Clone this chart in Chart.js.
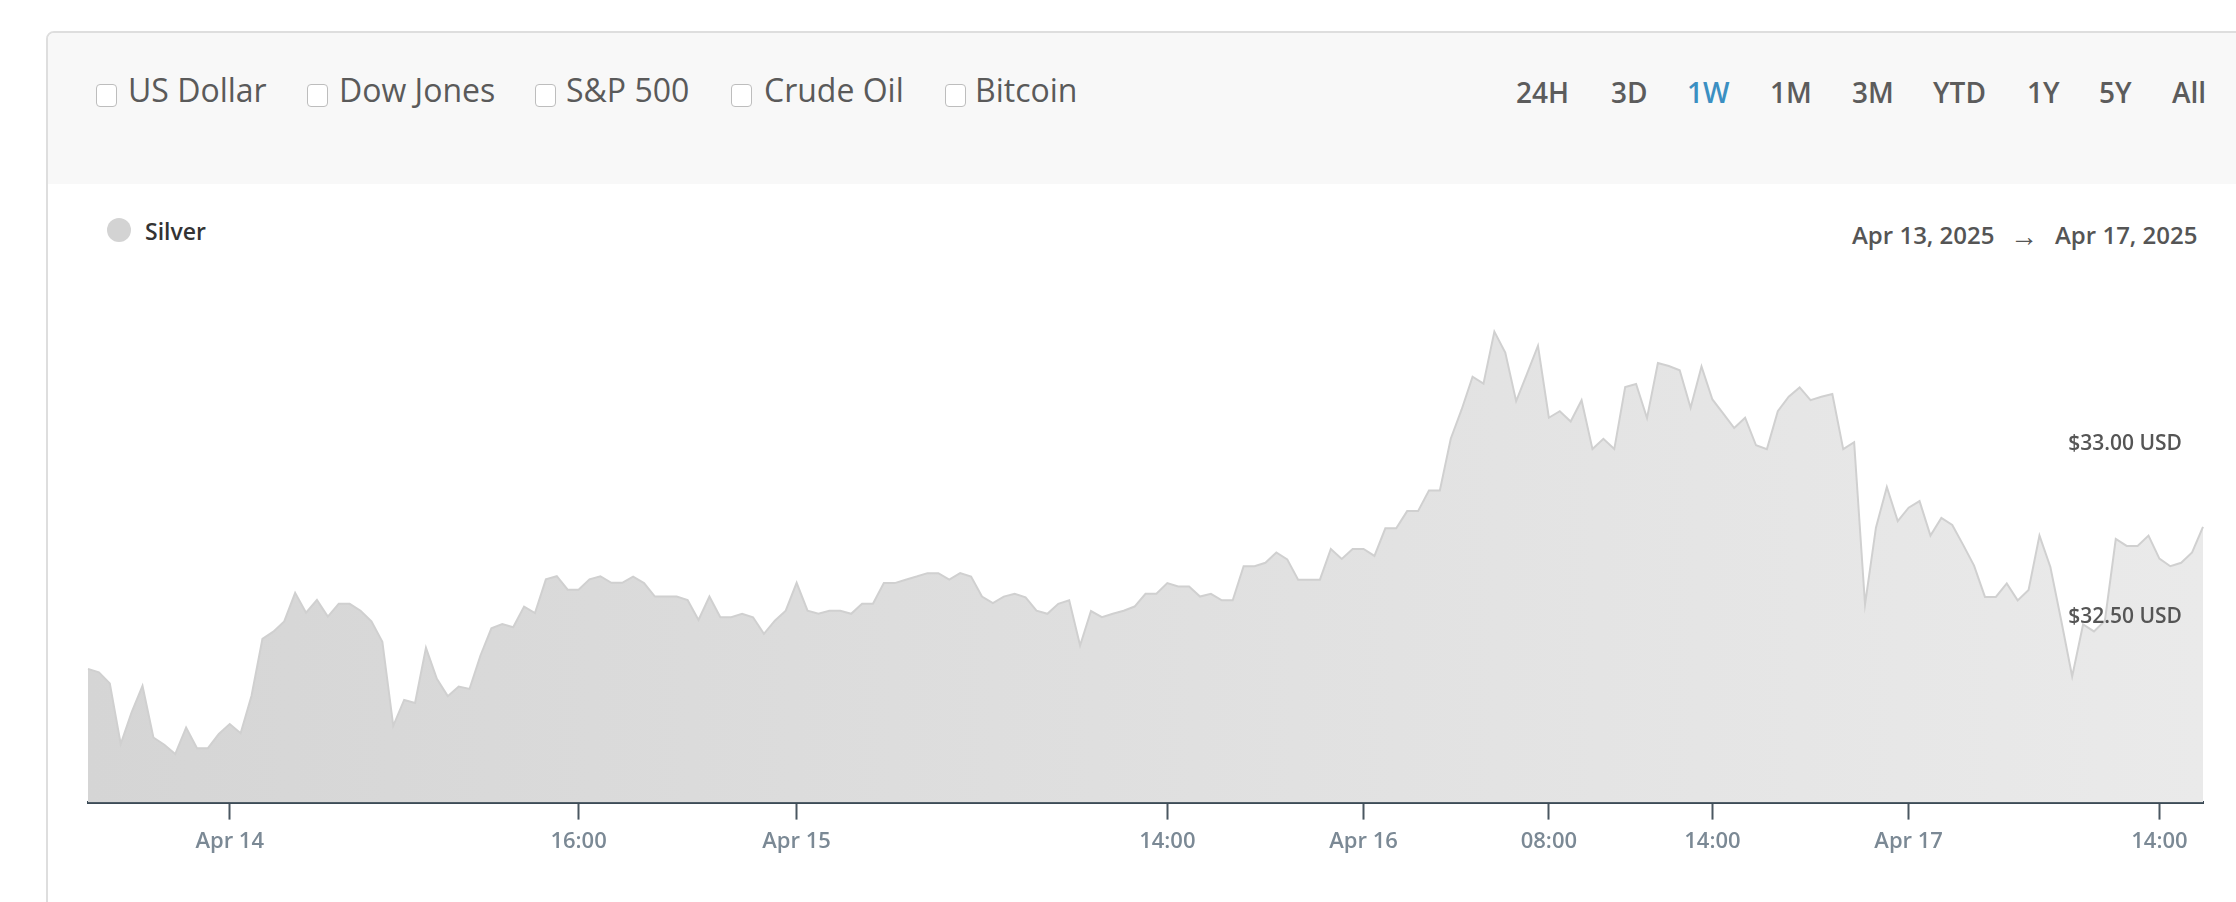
<!DOCTYPE html>
<html>
<head>
<meta charset="utf-8">
<script src="https://cdn.jsdelivr.net/npm/chart.js@4.4.1/dist/chart.umd.min.js"></script>
<style>
  html, body { margin: 0; padding: 0; background: #fff; }
  body { width: 2236px; height: 902px; overflow: hidden; position: relative; font-family: 'Open Sans', sans-serif; }
  .card { position: absolute; left: 46px; top: 31px; width: 2300px; height: 1000px; border: 2px solid #dedede; border-radius: 8px; background: #fff; overflow: hidden; }
  .card-head { position: absolute; left: 0; top: 0; width: 100%; height: 151px; background: #f8f8f8; }
  .txt { position: absolute; white-space: nowrap; line-height: normal; }
  .cb { position: absolute; top: 84px; width: 19px; height: 21px; border: 1.5px solid #bdbdbd; border-radius: 4px; background: #fff; }
  .opt { top: 68px; font-size: 32px; color: #5a5a5a; }
  .range { top: 73px; font-size: 28px; font-weight: 600; color: #5c5c5c; }
  .range.on { color: #3b8fc2; }
  .dot { position: absolute; left: 107px; top: 218px; width: 24px; height: 24px; border-radius: 50%; background: #d3d3d3; }
  .silver { left: 145px; top: 215px; font-size: 23px; font-weight: 600; color: #333; }
  .dates { top: 218px; font-size: 24px; font-weight: 600; color: #555; }
  .arrow { top: 216px; font-size: 28px; color: #555; }
  #wrap { position: absolute; left: 0; top: 0; width: 2236px; height: 902px; pointer-events: none; }
</style>
</head>
<body>
<div class="card"><div class="card-head"></div></div>

<span class="cb" style="left:96px"></span><span class="txt opt" style="left:128px">US Dollar</span>
<span class="cb" style="left:307px"></span><span class="txt opt" style="left:339px">Dow Jones</span>
<span class="cb" style="left:535px"></span><span class="txt opt" style="left:566px">S&amp;P 500</span>
<span class="cb" style="left:731px"></span><span class="txt opt" style="left:764px">Crude Oil</span>
<span class="cb" style="left:945px"></span><span class="txt opt" style="left:975px">Bitcoin</span>

<span class="txt range" style="left:1516px">24H</span>
<span class="txt range" style="left:1611px">3D</span>
<span class="txt range on" style="left:1687px">1W</span>
<span class="txt range" style="left:1770px">1M</span>
<span class="txt range" style="left:1852px">3M</span>
<span class="txt range" style="left:1933px">YTD</span>
<span class="txt range" style="left:2027px">1Y</span>
<span class="txt range" style="left:2099px">5Y</span>
<span class="txt range" style="left:2172px">All</span>

<span class="dot"></span><span class="txt silver">Silver</span>
<span class="txt dates" style="left:1852px">Apr 13, 2025</span>
<span class="txt arrow" style="left:2010px">→</span>
<span class="txt dates" style="left:2055px">Apr 17, 2025</span>

<div id="wrap"><canvas id="silverChart"></canvas></div>

<script>
// Precio de la plata (USD), un punto por intervalo, 13-17 abr 2025
const silverPrices = [
  32.348, 32.338, 32.306, 32.130, 32.222, 32.299, 32.149, 32.128, 32.101, 32.178,
  32.118, 32.118, 32.159, 32.188, 32.161, 32.270, 32.435, 32.456, 32.486, 32.569,
  32.511, 32.548, 32.500, 32.537, 32.537, 32.517, 32.486, 32.427, 32.183, 32.258,
  32.249, 32.409, 32.319, 32.269, 32.297, 32.290, 32.387, 32.466, 32.478, 32.469,
  32.529, 32.510, 32.608, 32.617, 32.578, 32.578, 32.608, 32.617, 32.598, 32.598,
  32.616, 32.597, 32.558, 32.558, 32.558, 32.548, 32.490, 32.558, 32.498, 32.498,
  32.508, 32.498, 32.450, 32.488, 32.517, 32.598, 32.517, 32.508, 32.517, 32.517,
  32.508, 32.537, 32.537, 32.597, 32.597, 32.607, 32.616, 32.626, 32.626, 32.607,
  32.626, 32.616, 32.558, 32.539, 32.558, 32.566, 32.556, 32.517, 32.508, 32.537,
  32.547, 32.416, 32.516, 32.498, 32.508, 32.517, 32.529, 32.566, 32.566, 32.597,
  32.587, 32.587, 32.558, 32.566, 32.547, 32.547, 32.646, 32.646, 32.656, 32.686,
  32.666, 32.607, 32.607, 32.607, 32.696, 32.667, 32.696, 32.696, 32.676, 32.756,
  32.756, 32.806, 32.806, 32.866, 32.866, 33.016, 33.101, 33.196, 33.176, 33.327,
  33.266, 33.125, 33.205, 33.286, 33.077, 33.096, 33.066, 33.128, 32.986, 33.016,
  32.986, 33.166, 33.175, 33.076, 33.236, 33.227, 33.215, 33.106, 33.226, 33.130,
  33.089, 33.047, 33.077, 32.997, 32.986, 33.096, 33.138, 33.165, 33.128, 33.138,
  33.146, 32.986, 33.006, 32.535, 32.758, 32.876, 32.777, 32.816, 32.835, 32.735,
  32.786, 32.766, 32.708, 32.648, 32.557, 32.557, 32.596, 32.547, 32.577, 32.735,
  32.644, 32.488, 32.326, 32.477, 32.457, 32.488, 32.725, 32.705, 32.705, 32.735,
  32.668, 32.646, 32.656, 32.686, 32.760
];

// Etiquetas del eje X y el punto donde caen
const tickIndexes = [13, 45, 65, 99, 117, 134, 149, 167, 190];
const tickLabels = ['Apr 14', '16:00', 'Apr 15', '14:00', 'Apr 16', '08:00', '14:00', 'Apr 17', '14:00'];

// Marcas del eje Y
const yTickValues = [32.5, 33.0];
const yMin = 31.96;
const yMax = 33.5;

const xLabels = silverPrices.map((_, i) => {
  const k = tickIndexes.indexOf(i);
  return k >= 0 ? tickLabels[k] : '';
});

const fontName = 'Open Sans';

const ctx = document.getElementById('silverChart').getContext('2d');

new Chart(ctx, {
  type: 'line',
  data: {
    labels: xLabels,
    datasets: [{
      label: 'Silver',
      data: silverPrices,
      borderColor: '#d0d0d0',
      borderWidth: 2,
      pointRadius: 0,
      tension: 0,
      fill: 'start',
      backgroundColor: (c) => {
        const area = c.chart.chartArea;
        if (!area) return '#dedede';
        const g = c.chart.ctx.createLinearGradient(area.left, 0, area.right, 0);
        g.addColorStop(0, '#d5d5d5');
        g.addColorStop(1, '#eaeaea');
        return g;
      }
    }]
  },
  options: {
    responsive: true,
    maintainAspectRatio: false,
    animation: false,
    layout: { padding: { left: 88, right: 33, top: 272, bottom: 38 } },
    plugins: {
      legend: { display: false },
      tooltip: { enabled: false }
    },
    scales: {
      x: {
        type: 'category',
        afterBuildTicks: scale => {
          scale.ticks = scale.ticks.filter(t => xLabels[t.value] !== '');
        },
        grid: {
          drawOnChartArea: false,
          drawTicks: true,
          tickLength: 17,
          tickWidth: 2,
          color: '#4a5761'
        },
        border: { display: true, color: '#3c4b56', width: 3 },
        ticks: {
          autoSkip: false,
          maxRotation: 0,
          padding: 9,
          color: '#7b8995',
          font: { family: fontName, size: 22, weight: '600' }
        }
      },
      y: {
        type: 'linear',
        position: 'right',
        min: yMin,
        max: yMax,
        afterBuildTicks: scale => {
          scale.ticks = yTickValues.map(v => ({ value: v }));
        },
        grid: { display: false, drawTicks: false },
        border: { display: false },
        ticks: {
          z: 1,
          mirror: true,
          padding: -21,
          color: '#555',
          font: { family: fontName, size: 21, weight: '600' },
          callback: v => '$' + Number(v).toFixed(2) + ' USD'
        }
      }
    }
  }
});
</script>
</body>
</html>
